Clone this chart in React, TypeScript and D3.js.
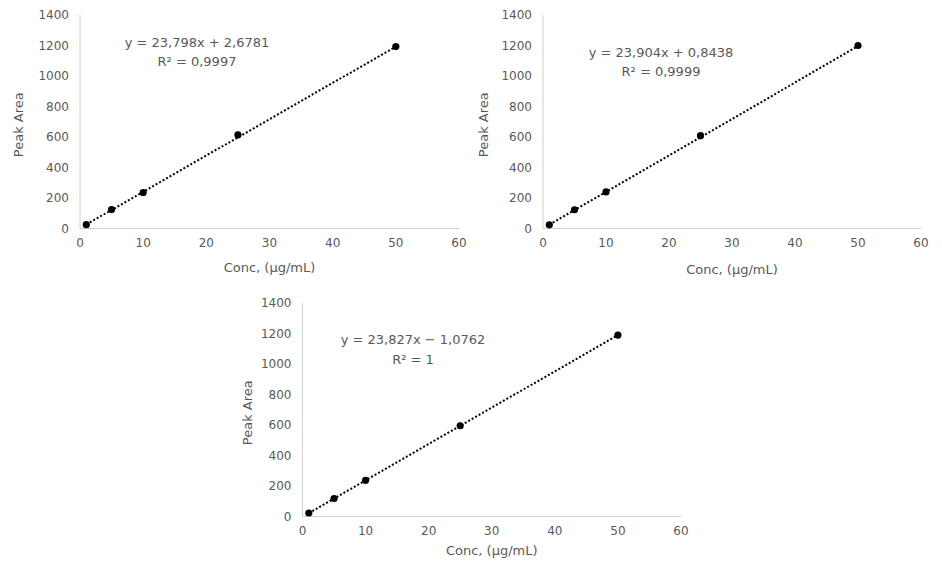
import React from "react";
import * as d3 from "d3";

const concentrations = [1, 5, 10, 25, 50];
const peakAreaA = [25, 124, 236, 614, 1193];
const peakAreaB = [24, 123, 240, 609, 1200];
const peakAreaC = [23, 118, 237, 595, 1190];
const slopes = [23.798, 23.904, 23.827];
const intercepts = [2.6781, 0.8438, -1.0762];
const equationLabels = ["y = 23,798x + 2,6781", "y = 23,904x + 0,8438", "y = 23,827x − 1,0762"];
const r2Labels = ["R² = 0,9997", "R² = 0,9999", "R² = 1"];
const xTicks = [0, 10, 20, 30, 40, 50, 60];
const yTicks = [0, 200, 400, 600, 800, 1000, 1200, 1400];
const xTitle = "Conc, (μg/mL)";
const yTitle = "Peak Area";

const seriesList = [peakAreaA, peakAreaB, peakAreaC];

const layouts = [
  { left: 80, right: 459, top: 15, bottom: 228.5, xTitleDy: 39, yTitleDx: -62, eqX: 197, eqY: 42, r2Y: 61 },
  { left: 543, right: 921, top: 15, bottom: 228.5, xTitleDy: 41, yTitleDx: -60, eqX: 661, eqY: 52, r2Y: 71 },
  { left: 302.5, right: 681, top: 303, bottom: 516.5, xTitleDy: 34, yTitleDx: -55, eqX: 413, eqY: 339, r2Y: 359 },
];

const FONT = "'DejaVu Sans', sans-serif";
const TEXT = "#595959";
const AXIS = "#d0d0d0";

function Panel({ idx }: { idx: number }) {
  const L = layouts[idx];
  const values = seriesList[idx];
  const x = d3.scaleLinear().domain([0, 60]).range([L.left, L.right]);
  const y = d3.scaleLinear().domain([0, 1400]).range([L.bottom, L.top]);
  const xMin = d3.min(concentrations) as number;
  const xMax = d3.max(concentrations) as number;
  const fit = (c: number) => slopes[idx] * c + intercepts[idx];
  const line = d3
    .line<number>()
    .x((c) => x(c))
    .y((c) => y(fit(c)));
  const cx = (L.left + L.right) / 2;
  const cy = (L.top + L.bottom) / 2;
  return (
    <g>
      <line x1={L.left} x2={L.left} y1={L.top} y2={L.bottom} stroke={AXIS} strokeWidth={1} />
      <line x1={L.left} x2={L.right} y1={L.bottom} y2={L.bottom} stroke={AXIS} strokeWidth={1} />
      {yTicks.map((t) => (
        <text key={"y" + t} x={L.left - 11} y={y(t)} dy="0.35em" textAnchor="end" fontSize={12} fill={TEXT} fontFamily={FONT}>
          {t}
        </text>
      ))}
      {xTicks.map((t) => (
        <text key={"x" + t} x={x(t)} y={L.bottom + 14} dy="0.35em" textAnchor="middle" fontSize={12} fill={TEXT} fontFamily={FONT}>
          {t}
        </text>
      ))}
      <text x={cx} y={L.bottom + L.xTitleDy} dy="0.35em" textAnchor="middle" fontSize={13} fill={TEXT} fontFamily={FONT}>
        {xTitle}
      </text>
      <text
        transform={`translate(${L.left + L.yTitleDx},${cy + 3}) rotate(-90)`}
        dy="0.35em"
        textAnchor="middle"
        fontSize={13}
        fill={TEXT}
        fontFamily={FONT}
      >
        {yTitle}
      </text>
      <path d={line([xMin, xMax]) || ""} fill="none" stroke="#000" strokeWidth={2} strokeDasharray="2 2" />
      {concentrations.map((c, i) => (
        <circle key={"p" + i} cx={x(c)} cy={y(values[i])} r={3.6} fill="#000" />
      ))}
      <text x={L.eqX} y={L.eqY} dy="0.35em" textAnchor="middle" fontSize={13} fill={TEXT} fontFamily={FONT}>
        {equationLabels[idx]}
      </text>
      <text x={L.eqX} y={L.r2Y} dy="0.35em" textAnchor="middle" fontSize={13} fill={TEXT} fontFamily={FONT}>
        {r2Labels[idx]}
      </text>
    </g>
  );
}

export default function App() {
  return (
    <svg width={942} height={576} style={{ position: "absolute", left: 0, top: 0, background: "#fff" }}>
      <rect width={942} height={576} fill="#fff" />
      {layouts.map((_, i) => (
        <Panel key={i} idx={i} />
      ))}
    </svg>
  );
}
